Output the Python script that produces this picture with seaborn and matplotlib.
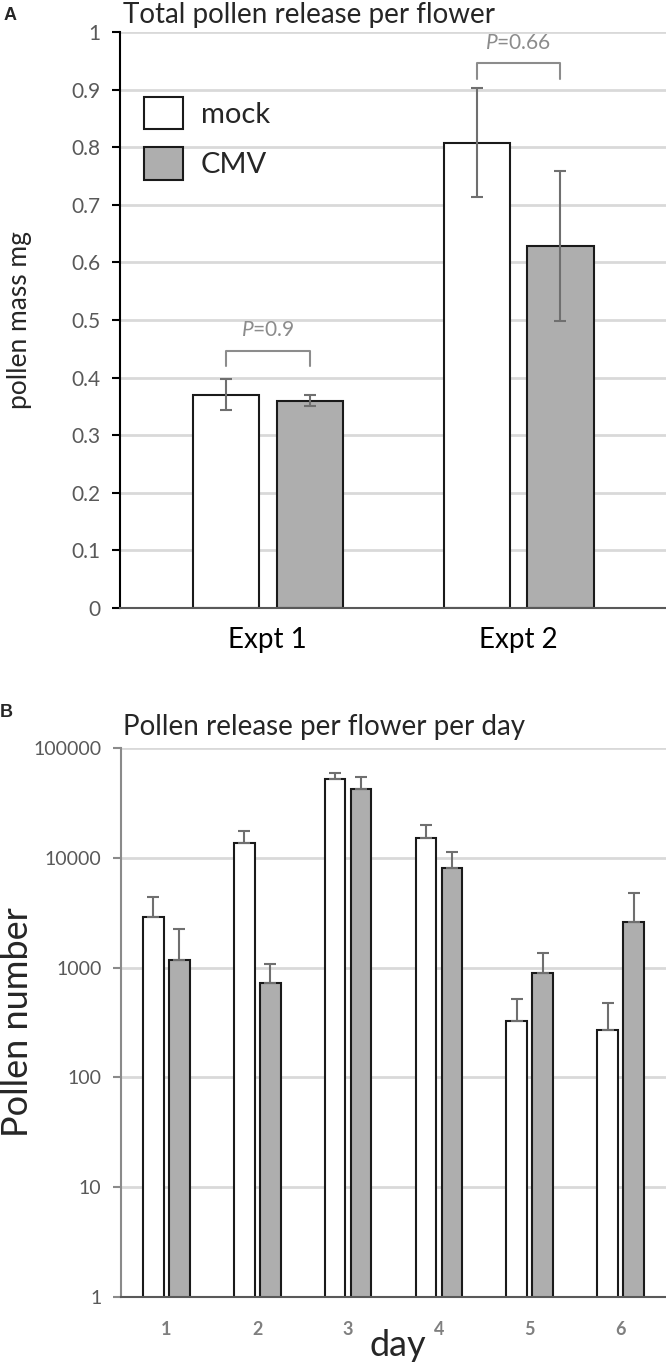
import matplotlib
matplotlib.use('Agg')
import matplotlib.pyplot as plt
from matplotlib.patches import Patch
from matplotlib.ticker import FuncFormatter
import seaborn as sns
import pandas as pd

# panel A: total pollen mass per flower
expts = ['Expt 1', 'Expt 2']
mass_mock = [0.370, 0.808]
mass_mock_err = [0.027, 0.094]
mass_cmv = [0.360, 0.629]
mass_cmv_err = [0.0095, 0.130]
p_labels = ['0.9', '0.66']
bracket_levels = [(0.420, 0.447), (0.918, 0.946)]

# panel B: pollen number per flower per day (log scale, upper error only)
days = ['1', '2', '3', '4', '5', '6']
pollen_mock = [2900, 13700, 51900, 15200, 327, 272]
pollen_mock_err = [1470, 3700, 6900, 4600, 190, 208]
pollen_cmv = [1170, 730, 42000, 8040, 900, 2620]
pollen_cmv_err = [1060, 340, 12800, 3260, 450, 2130]

treatments = ['mock', 'CMV']
fills = {'mock': 'white', 'CMV': '#aeaeae'}
edge = '#1a1a1a'
err_col = '#6f6f6f'
tick_col = '#595959'
grid_col = '#d9d9d9'

sns.set_style('white')
plt.rcParams['font.family'] = ['Lato', 'DejaVu Sans']
plt.rcParams['mathtext.fontset'] = 'custom'
plt.rcParams['mathtext.it'] = 'Lato:italic'
plt.rcParams['mathtext.rm'] = 'Lato'

df_a = pd.DataFrame({
    'expt': expts * 2,
    'treatment': ['mock'] * 2 + ['CMV'] * 2,
    'mass': mass_mock + mass_cmv,
})
df_b = pd.DataFrame({
    'day': days * 2,
    'treatment': ['mock'] * 6 + ['CMV'] * 6,
    'pollen': pollen_mock + pollen_cmv,
})

fig = plt.figure(figsize=(6.66, 13.67), dpi=100)

# ---------------- panel A ----------------
axA = fig.add_axes([0.1802, 0.5552, 0.8198, 0.4214])
sns.barplot(data=df_a, x='expt', y='mass', hue='treatment', hue_order=treatments,
            palette=fills, saturation=1, width=0.668, gap=0.21,
            edgecolor=edge, linewidth=1.5, legend=False, ax=axA, zorder=2)

centersA = []
for cont, means, errs in zip(axA.containers, [mass_mock, mass_cmv], [mass_mock_err, mass_cmv_err]):
    xs = [p.get_x() + p.get_width() / 2 for p in cont.patches]
    centersA.append(xs)
    axA.errorbar(xs, means, yerr=errs, fmt='none', ecolor=err_col, elinewidth=1.5,
                 capsize=4, capthick=1.5, zorder=3)

# P-value brackets
for i, (lab, (lo, hi)) in enumerate(zip(p_labels, bracket_levels)):
    x0, x1 = centersA[0][i], centersA[1][i]
    axA.plot([x0, x0, x1, x1], [lo, hi, hi, lo], color='#8c8c8c', lw=1.5,
             solid_joinstyle='round', zorder=3)
    axA.text((x0 + x1) / 2, hi + 0.018, r'$P$=' + lab, ha='center', va='bottom',
             color='#8c8c8c', fontsize=15)

axA.set_xlim(-0.589, 1.588)
axA.set_ylim(0, 1)
axA.set_yticks([i / 10 for i in range(11)])
axA.yaxis.set_major_formatter(FuncFormatter(lambda v, _: '{:g}'.format(round(v, 1))))
axA.yaxis.grid(True, color=grid_col, lw=2)
axA.set_axisbelow(True)
for s in ['top', 'right']:
    axA.spines[s].set_visible(False)
axA.spines['left'].set_color('black')
axA.spines['left'].set_linewidth(1.5)
axA.spines['bottom'].set_color('#595959')
axA.spines['bottom'].set_linewidth(1.5)
axA.tick_params(axis='y', left=True, length=6, width=1.5, color='black',
                labelcolor=tick_col, labelsize=15, pad=8)
axA.tick_params(axis='x', bottom=False, labelsize=20, labelcolor='black', pad=10)
axA.set_xlabel('')
axA.set_ylabel('pollen mass mg', fontsize=19, va='center')
axA.yaxis.set_label_coords(-0.185, 0.5)

handles = [Patch(facecolor=fills[t], edgecolor=edge, lw=1.5, label=t) for t in treatments]
axA.legend(handles=handles, loc='upper left', bbox_to_anchor=(0.044, 0.887),
           frameon=False, fontsize=21, handlelength=1.32, handleheight=1.32,
           handletextpad=0.62, labelspacing=0.62, borderpad=0, borderaxespad=0)

fig.text(0.1847, 0.9832, 'Total pollen release per flower', fontsize=20, va='baseline')
fig.text(0.006, 0.9854, 'A', fontsize=13, fontweight='bold', va='baseline',
         family='Liberation Sans')

# ---------------- panel B ----------------
axB = fig.add_axes([0.1817, 0.0512, 0.8183, 0.4016])
sns.barplot(data=df_b, x='day', y='pollen', hue='treatment', hue_order=treatments,
            palette=fills, saturation=1, width=0.572, gap=0.2,
            edgecolor=edge, linewidth=1.5, legend=False, ax=axB, zorder=2)
axB.set_yscale('log')

for cont, means, errs in zip(axB.containers, [pollen_mock, pollen_cmv], [pollen_mock_err, pollen_cmv_err]):
    xs = [p.get_x() + p.get_width() / 2 for p in cont.patches]
    axB.errorbar(xs, means, yerr=[[0] * len(errs), errs], fmt='none', ecolor=err_col,
                 elinewidth=1.5, capsize=4.5, capthick=1.5, zorder=3)

axB.set_xlim(-0.5, 5.5)
axB.set_ylim(1, 100000)
axB.set_yticks([1, 10, 100, 1000, 10000, 100000])
axB.yaxis.set_major_formatter(FuncFormatter(lambda v, _: '{:d}'.format(int(round(v)))))
axB.minorticks_off()
axB.yaxis.grid(True, color=grid_col, lw=2)
axB.set_axisbelow(True)
for s in ['top', 'right']:
    axB.spines[s].set_visible(False)
axB.spines['left'].set_color('#8a8a8a')
axB.spines['left'].set_linewidth(1.5)
axB.spines['bottom'].set_color('#595959')
axB.spines['bottom'].set_linewidth(1.5)
axB.tick_params(axis='y', left=True, length=6, width=1.5, color='#8a8a8a',
                labelcolor=tick_col, labelsize=14, pad=8)
axB.tick_params(axis='x', bottom=False, labelsize=13, labelcolor='#7f7f7f', pad=14)
for lab in axB.get_xticklabels():
    lab.set_fontweight('bold')
axB.set_xlabel('day', fontsize=26, va='top')
axB.xaxis.set_label_coords(0.508, -0.058)
axB.set_ylabel('Pollen number', fontsize=26, va='center')
axB.yaxis.set_label_coords(-0.19, 0.5)

fig.text(0.1847, 0.4623, 'Pollen release per flower per day', fontsize=20, va='baseline')
fig.text(0.0, 0.4755, 'B', fontsize=13, fontweight='bold', va='baseline',
         family='Liberation Sans')

fig.savefig('out.png', dpi=100)
